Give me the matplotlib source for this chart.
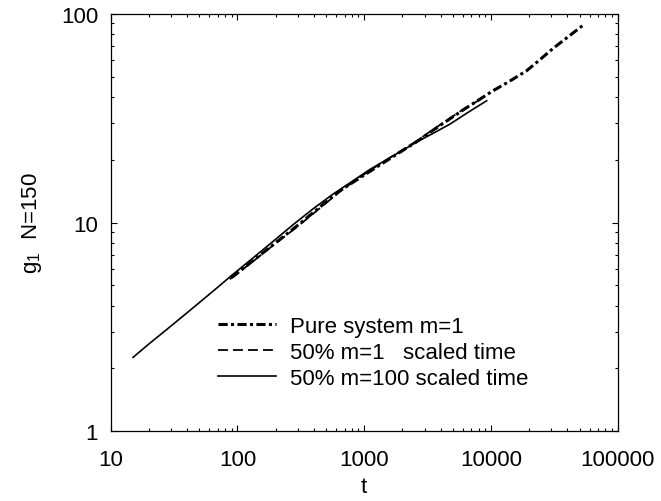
import numpy as np
import matplotlib.pyplot as plt
from matplotlib.ticker import NullFormatter

plt.rcParams['font.family'] = ['Liberation Sans', 'DejaVu Sans']
plt.rcParams['mathtext.default'] = 'regular'

# data
t_pure = [90, 130, 190, 312, 450, 645, 900, 1180, 1800, 2600, 3500, 4750,
          6300, 8200, 10400, 12500, 15000, 19100, 24000, 31000, 40000, 53600]
g_pure = [5.45, 6.5, 7.8, 9.9, 11.9, 14.2, 16.2, 18.0, 21.2, 24.4, 27.7, 31.4,
          35.2, 39.0, 42.8, 45.6, 48.7, 53.3, 59.8, 68.3, 77.0, 88.3]

t_m1 = [87, 130, 190, 300, 450, 645, 900, 1300, 1800, 2600, 3500, 4750, 6300, 9000]
g_m1 = [5.35, 6.45, 7.75, 9.6, 11.75, 14.1, 16.3, 18.9, 21.4, 24.6, 27.9, 31.6, 35.4, 40.0]

t_m100 = [15, 20, 30, 45, 65, 90, 130, 190, 274, 400, 560, 773, 1100, 1700,
          2600, 3600, 4750, 6500, 9250]
g_m100 = [2.26, 2.62, 3.2, 3.92, 4.72, 5.58, 6.7, 8.1, 9.75, 11.7, 13.6, 15.5,
          17.9, 20.9, 24.3, 27.0, 29.6, 33.5, 38.3]

labels = ['Pure system m=1', '50% m=1   scaled time', '50% m=100 scaled time']
xticks = [10, 100, 1000, 10000, 100000]
yticks = [1, 10, 100]

fig = plt.figure(figsize=(6.61, 5.02), dpi=100)
ax = fig.add_axes([0.1675, 0.1388, 0.767, 0.8319])

ax.plot(t_pure, g_pure, color='black', lw=2.2, linestyle=(0, (3.0, 1.1, 1.0, 1.1)),
        dash_capstyle='butt', label=labels[0])
ax.plot(t_m1, g_m1, color='black', lw=1.3, linestyle=(0, (5.5, 2.8)), label=labels[1])
ax.plot(t_m100, g_m100, color='black', lw=1.2, linestyle='-', label=labels[2])

ax.set_xscale('log')
ax.set_yscale('log')
ax.set_xlim(10, 100000)
ax.set_ylim(1, 100)
ax.set_xticks(xticks)
ax.set_xticklabels([str(v) for v in xticks])
ax.set_yticks(yticks)
ax.set_yticklabels([str(v) for v in yticks])
ax.xaxis.set_minor_formatter(NullFormatter())
ax.yaxis.set_minor_formatter(NullFormatter())

ax.tick_params(which='both', direction='in', top=True, right=True, labelsize=16, width=0.8)
ax.tick_params(which='major', length=4.5)
ax.tick_params(which='minor', length=2.5)
ax.tick_params(axis='x', which='major', pad=13)
ax.tick_params(axis='y', which='major', pad=9)
for s in ax.spines.values():
    s.set_linewidth(0.9)

ax.set_xlabel('t', fontsize=16, labelpad=4)
ax.set_ylabel('g$_1$  N=150', fontsize=16, labelpad=12)

ax.legend(loc='lower left', bbox_to_anchor=(0.19, 0.075), frameon=False, fontsize=16,
          handlelength=2.6, handletextpad=0.63, labelspacing=0.22, borderpad=0)

fig.savefig('out.png', dpi=100)
